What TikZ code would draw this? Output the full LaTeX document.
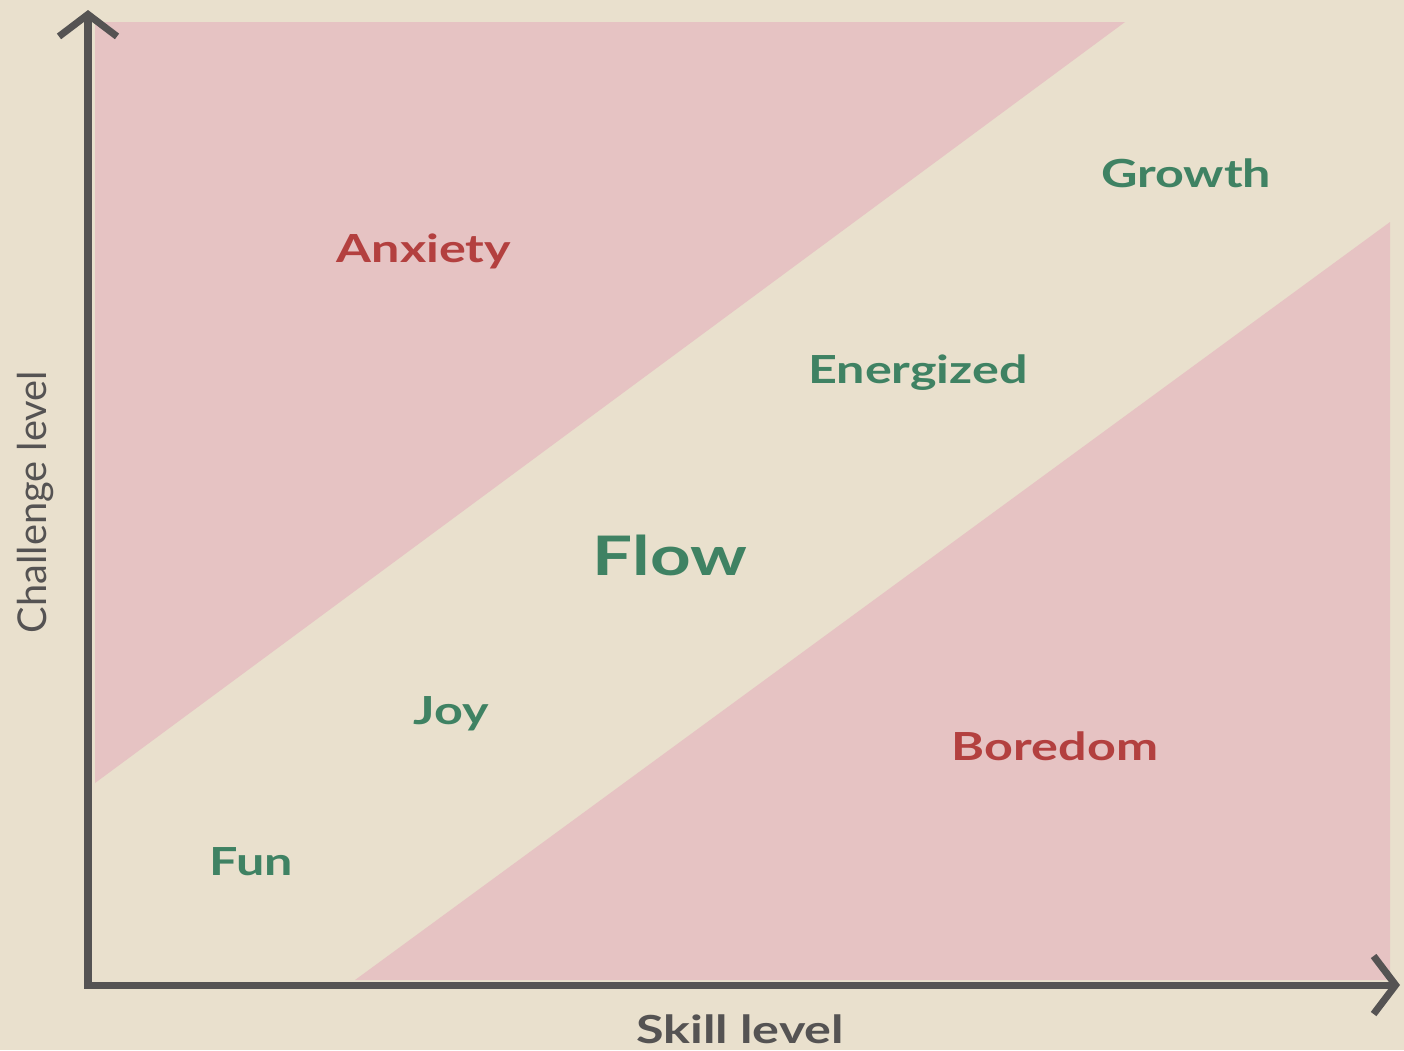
\documentclass[tikz,border=0pt]{standalone}
\usepackage{fontspec}
\setmainfont{Lato}
\usepackage{graphicx}
\usetikzlibrary{arrows.meta}
\definecolor{cream}{HTML}{E9E0CD}
\definecolor{rose}{HTML}{E6C3C3}
\definecolor{alarm}{HTML}{B3403F}
\definecolor{calm}{HTML}{3F8263}
\definecolor{axisgray}{HTML}{555353}
\newcommand{\wide}[1]{\scalebox{1.3}[1]{#1}}
\tikzset{
  axisline/.style={draw=axisgray, line width=2pt, {Straight Barb[length=2.2mm, width=5.8mm, line width=2pt]}-{Straight Barb[length=2.2mm, width=5.8mm, line width=2pt]}},
  zone/.style={fill=rose},
  hotlabel/.style={text=alarm, font=\bfseries\fontsize{11}{13}\selectfont},
  coollabel/.style={text=calm, font=\bfseries\fontsize{11}{13}\selectfont},
  flowlabel/.style={text=calm, font=\bfseries\fontsize{15.5}{18}\selectfont},
  axislabel/.style={text=axisgray, font=\fontsize{11.3}{13}\selectfont}
}

\begin{document}
\begin{tikzpicture}[x=0.01cm, y=-0.01cm]
  \useasboundingbox (0,0) rectangle (1404,1050);
  \fill[cream] (0,0) rectangle (1404,1050);
  % the two out-of-balance zones
  \fill[zone] (95,22) -- (1125,22) -- (95,783) -- cycle;
  \fill[zone] (355,980) -- (1390,980) -- (1390,222) -- cycle;
  % axes
  \coordinate (top) at (88,10);
  \coordinate (origin) at (88,985);
  \coordinate (right) at (1400,985);
  \draw[axisline] (top) -- (origin) -- (right);
  % labels
  \node[hotlabel] (anxiety) at (424,251) {\wide{Anxiety}};
  \node[coollabel] (growth) at (1186,173) {\wide{Growth}};
  \node[coollabel] (energized) at (918,373) {\wide{Energized}};
  \node[flowlabel] (flow) at (670,555) {\wide{Flow}};
  \node[coollabel] (joy) at (451,714) {\wide{Joy}};
  \node[hotlabel] (boredom) at (1055,746) {\wide{Boredom}};
  \node[coollabel] (fun) at (251,862) {\wide{Fun}};
  \node[axislabel, font=\bfseries\fontsize{11}{13}\selectfont] (skill) at (740,1029) {\wide{Skill level}};
  \node[axislabel, rotate=90] (challenge) at (35,502) {Challenge level};
\end{tikzpicture}
\end{document}
